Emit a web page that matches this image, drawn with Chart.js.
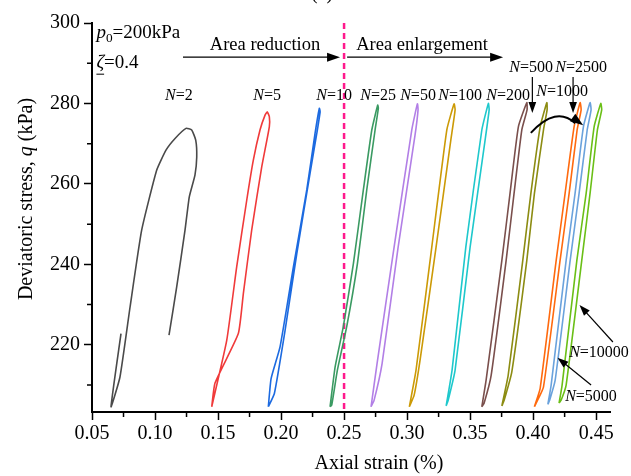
<!DOCTYPE html>
<html>
<head>
<meta charset="utf-8">
<script src="https://cdn.jsdelivr.net/npm/chart.js@4.4.0/dist/chart.umd.min.js"></script>
<style>
  body { margin: 0; background: #fff; }
  canvas { display: block; }
</style>
</head>
<body>
<canvas id="chart" width="631" height="476"></canvas>
<script>
const SERIF = '"Liberation Serif", "Times New Roman", serif';

// cycle numbers and the colour used for each loop
const cycles = [2, 5, 10, 25, 50, 100, 200, 500, 1000, 2500, 5000, 10000];
const loopColors = ["#4a4a4a", "#f03a3a", "#1c6ae0", "#3a9a62", "#b27fe6", "#cc9a06",
  "#1ec8cc", "#7a4f4c", "#8c8c12", "#ff6a0e", "#6aa2dc", "#6abf16"];

// hysteresis loops: [axial strain (%), q (kPa)]
const loopN2 = [[0.0730, 222.8], [0.0651, 204.6], [0.0722, 212.0], [0.0802, 229.4], [0.0894, 248.5],
  [0.1013, 263.4], [0.1087, 268.4], [0.1159, 271.3], [0.1246, 273.8], [0.1291, 273.4], [0.1323, 270.9],
  [0.1331, 266.7], [0.1317, 262.2], [0.1272, 256.8], [0.1238, 248.5], [0.1172, 234.4], [0.1111, 222.4]];
const loopN5 = [[0.1450, 204.6], [0.1569, 221.1], [0.1648, 239.4], [0.1728, 256.0], [0.1780, 265.9],
  [0.1833, 273.4], [0.1873, 277.1], [0.1891, 277.9], [0.1907, 276.7], [0.1907, 274.2], [0.1847, 264.3],
  [0.1767, 248.5], [0.1701, 232.8], [0.1661, 222.8], [0.1476, 210.5], [0.1450, 204.6]];
const loopN10 = [[0.1899, 204.6], [0.1921, 211.6], [0.1992, 219.5], [0.2098, 239.4], [0.2204, 258.5],
  [0.2270, 272.6], [0.2304, 278.8], [0.2310, 277.9], [0.2288, 273.4], [0.2230, 262.6], [0.2125, 242.7],
  [0.2032, 223.6], [0.1947, 207.9], [0.1899, 204.6]];
const loopN25 = [[0.2389, 204.6], [0.2429, 214.5], [0.2494, 224.5], [0.2574, 240.2], [0.2653, 258.5],
  [0.2720, 273.4], [0.2767, 279.6], [0.2772, 278.8], [0.2746, 273.4], [0.2680, 258.5], [0.2606, 240.2],
  [0.2521, 224.5], [0.2447, 213.7], [0.2402, 205.0], [0.2389, 204.6]];
const loopN50 = [[0.2714, 204.6], [0.2762, 215.4], [0.2897, 244.3], [0.3037, 273.4], [0.3082, 279.9],
  [0.3087, 278.4], [0.3063, 272.1], [0.2929, 244.3], [0.2802, 215.4], [0.2738, 206.2], [0.2714, 204.6]];
const loopN100 = [[0.3018, 204.6], [0.3071, 213.7], [0.3196, 244.3], [0.3315, 273.4], [0.3373, 279.9],
  [0.3381, 278.4], [0.3347, 270.9], [0.3230, 244.3], [0.3103, 216.2], [0.3056, 207.5], [0.3018, 204.6]];
const loopN200 = [[0.3310, 204.8], [0.3357, 213.7], [0.3466, 244.3], [0.3593, 273.4], [0.3645, 280.0],
  [0.3651, 278.4], [0.3619, 270.9], [0.3500, 244.3], [0.3381, 213.7], [0.3326, 206.2], [0.3310, 204.8]];
const loopN500 = [[0.3593, 204.6], [0.3627, 211.2], [0.3752, 241.0], [0.3817, 257.7], [0.3883, 274.2],
  [0.3950, 280.2], [0.3952, 278.4], [0.3910, 273.4], [0.3849, 257.7], [0.3786, 241.0], [0.3667, 212.4],
  [0.3611, 205.5], [0.3593, 204.6]];
const loopN1000 = [[0.3752, 204.8], [0.3802, 212.4], [0.3918, 241.0], [0.3982, 257.6], [0.4056, 274.2],
  [0.4109, 280.2], [0.4111, 278.4], [0.4082, 273.4], [0.4010, 257.6], [0.3950, 241.0], [0.3831, 213.3],
  [0.3770, 206.2], [0.3752, 204.8]];
const loopN2500 = [[0.4010, 204.6], [0.4056, 209.2], [0.4183, 241.0], [0.4254, 257.7], [0.4325, 274.2],
  [0.4373, 280.2], [0.4381, 278.4], [0.4349, 273.4], [0.4286, 257.7], [0.4214, 241.0], [0.4082, 209.5],
  [0.4024, 205.5], [0.4010, 204.6]];
const loopN5000 = [[0.4117, 205.2], [0.4143, 210.0], [0.4262, 241.0], [0.4333, 257.7], [0.4399, 274.2],
  [0.4452, 280.2], [0.4460, 278.4], [0.4429, 273.4], [0.4365, 257.7], [0.4294, 241.0], [0.4175, 211.2],
  [0.4131, 206.2], [0.4117, 205.2]];
const loopN10000 = [[0.4206, 205.5], [0.4230, 210.0], [0.4347, 241.0], [0.4421, 257.7], [0.4484, 274.2],
  [0.4537, 280.0], [0.4544, 278.4], [0.4510, 273.4], [0.4452, 257.7], [0.4386, 241.0], [0.4262, 210.0],
  [0.4222, 206.2], [0.4206, 205.5]];

const loops = [loopN2, loopN5, loopN10, loopN25, loopN50, loopN100, loopN200,
  loopN500, loopN1000, loopN2500, loopN5000, loopN10000];

// axes
const xTicks = [0.05, 0.10, 0.15, 0.20, 0.25, 0.30, 0.35, 0.40, 0.45];
const xMinorTicks = [0.075, 0.125, 0.175, 0.225, 0.275, 0.325, 0.375, 0.425];
const yTicks = [220, 240, 260, 280, 300];
const yMinorTicks = [210, 230, 250, 270, 290];
const boundaryStrain = 0.25; // area reduction / enlargement boundary

// draw text made of plain and italic pieces
function richText(ctx, parts, x, y, size, align) {
  let total = 0;
  const widths = parts.map(p => {
    ctx.font = (p.i ? "italic " : "") + (p.sub ? size * 0.7 : size) + "px " + SERIF;
    const w = ctx.measureText(p.t).width;
    total += w;
    return w;
  });
  let cx = align === "center" ? x - total / 2 : x;
  parts.forEach((p, k) => {
    ctx.font = (p.i ? "italic " : "") + (p.sub ? size * 0.7 : size) + "px " + SERIF;
    ctx.fillText(p.t, cx, p.sub ? y + size * 0.3 : y);
    if (p.u) {
      ctx.fillRect(cx, y + size * 0.55, widths[k], 1);
    }
    cx += widths[k];
  });
}

function arrow(ctx, x1, y1, x2, y2, head) {
  const a = Math.atan2(y2 - y1, x2 - x1);
  ctx.beginPath();
  ctx.moveTo(x1, y1);
  ctx.lineTo(x2 - Math.cos(a) * head * 0.8, y2 - Math.sin(a) * head * 0.8);
  ctx.stroke();
  arrowHead(ctx, x2, y2, a, head);
}

function arrowHead(ctx, x, y, a, head) {
  ctx.beginPath();
  ctx.moveTo(x, y);
  ctx.lineTo(x - head * Math.cos(a) + head * 0.35 * Math.sin(a), y - head * Math.sin(a) - head * 0.35 * Math.cos(a));
  ctx.lineTo(x - head * Math.cos(a) - head * 0.35 * Math.sin(a), y - head * Math.sin(a) + head * 0.35 * Math.cos(a));
  ctx.closePath();
  ctx.fill();
}

const decorations = {
  id: "decorations",
  beforeDatasetsDraw(chart) {
    const { ctx, chartArea, scales: { x } } = chart;
    // dashed boundary line
    ctx.save();
    ctx.strokeStyle = "#ff1a8c";
    ctx.lineWidth = 2.5;
    ctx.setLineDash([6, 4]);
    ctx.beginPath();
    ctx.moveTo(x.getPixelForValue(boundaryStrain), chartArea.top);
    ctx.lineTo(x.getPixelForValue(boundaryStrain), chartArea.bottom);
    ctx.stroke();
    ctx.restore();
  },
  afterDraw(chart) {
    const { ctx, chartArea, scales: { x, y } } = chart;
    const px = v => x.getPixelForValue(v);
    const py = v => y.getPixelForValue(v);
    ctx.save();
    ctx.fillStyle = "#000";
    ctx.strokeStyle = "#000";

    // minor ticks
    ctx.lineWidth = 1.5;
    ctx.beginPath();
    xMinorTicks.forEach(v => { ctx.moveTo(px(v), chartArea.bottom); ctx.lineTo(px(v), chartArea.bottom + 5); });
    yMinorTicks.forEach(v => { ctx.moveTo(chartArea.left, py(v)); ctx.lineTo(chartArea.left - 5, py(v)); });
    ctx.stroke();

    // axis titles
    ctx.textBaseline = "middle";
    ctx.textAlign = "left";
    richText(ctx, [{ t: "Axial strain (%)" }], 379, 464, 20, "center");
    ctx.save();
    ctx.translate(27, 199);
    ctx.rotate(-Math.PI / 2);
    richText(ctx, [{ t: "Deviatoric stress, " }, { t: "q", i: true }, { t: " (kPa)" }], 0, 0, 20, "center");
    ctx.restore();

    // panel tag, mostly cut off at the top
    richText(ctx, [{ t: "(a)" }], 322, -6, 20, "center");

    // test conditions
    richText(ctx, [{ t: "p", i: true }, { t: "0", sub: true }, { t: "=200kPa" }], px(0.0535), py(297.5), 19, "left");
    richText(ctx, [{ t: "ζ", i: true, u: true }, { t: "=0.4" }], px(0.0535), py(290.0), 19, "left");

    // area reduction / enlargement
    richText(ctx, [{ t: "Area reduction" }], px(0.1873), py(294.6), 18.5, "center");
    richText(ctx, [{ t: "Area enlargement" }], px(0.3119), py(294.6), 18.5, "center");
    ctx.lineWidth = 1.2;
    arrow(ctx, px(0.1222), py(291.5), px(0.2468), py(291.5), 13);
    arrow(ctx, px(0.2524), py(291.5), px(0.3762), py(291.5), 13);

    // cycle labels
    const labelAt = [[0.1190, 281.8], [0.1889, 281.8], [0.2421, 281.8], [0.2770, 281.8], [0.3087, 281.8],
      [0.3421, 281.8], [0.3802, 281.8], [0.3984, 288.8], [0.4230, 282.8], [0.4381, 288.8]];
    labelAt.forEach((p, k) => {
      richText(ctx, [{ t: "N", i: true }, { t: "=" + cycles[k] }], px(p[0]), py(p[1]), 16, "center");
    });
    richText(ctx, [{ t: "N", i: true }, { t: "=" + cycles[10] }], px(0.4254), py(207.2), 16, "left");
    richText(ctx, [{ t: "N", i: true }, { t: "=" + cycles[11] }], px(0.4286), py(217.9), 16, "left");

    // pointer arrows
    ctx.lineWidth = 1.2;
    arrow(ctx, px(0.3994), py(286.6), px(0.3994), py(277.6), 11);
    arrow(ctx, px(0.4317), py(286.6), px(0.4317), py(277.6), 11);
    arrow(ctx, px(0.4633), py(220.7), px(0.4368), py(229.9), 11);
    arrow(ctx, px(0.4460), py(210.0), px(0.4193), py(216.8), 11);

    // curved arrow from N=500 towards N=10000
    ctx.lineWidth = 2;
    const sx = px(0.3982), sy = py(272.7), cx = px(0.4183), cy = py(279.5), ex = px(0.4397), ey = py(274.6);
    ctx.beginPath();
    ctx.moveTo(sx, sy);
    ctx.quadraticCurveTo(cx, cy, ex - 8, ey - 2);
    ctx.stroke();
    arrowHead(ctx, ex, ey, Math.atan2(ey - cy, ex - cx), 13);
    ctx.restore();
  }
};

new Chart(document.getElementById("chart"), {
  type: "scatter",
  data: {
    datasets: loops.map((loop, k) => ({
      label: "N=" + cycles[k],
      data: loop.map(p => ({ x: p[0], y: p[1] })),
      showLine: true,
      borderColor: loopColors[k],
      borderWidth: 1.6,
      pointRadius: 0,
      tension: 0.15,
      fill: false
    }))
  },
  options: {
    responsive: false,
    animation: false,
    layout: { padding: { left: 0, top: 23, right: 21, bottom: 0 } },
    plugins: { legend: { display: false }, tooltip: { enabled: false } },
    scales: {
      x: {
        type: "linear",
        min: 0.05,
        max: 0.461,
        afterBuildTicks: s => { s.ticks = xTicks.map(v => ({ value: v })); },
        afterFit: s => { s.height = 64; },
        ticks: {
          callback: v => v.toFixed(2),
          color: "#000",
          font: { family: SERIF, size: 20 },
          padding: 2,
          maxRotation: 0
        },
        grid: { drawOnChartArea: false, drawTicks: true, tickLength: 8, tickWidth: 1.5, tickColor: "#000" },
        border: { display: true, color: "#000", width: 2 }
      },
      y: {
        type: "linear",
        min: 203.3,
        max: 300,
        afterBuildTicks: s => { s.ticks = yTicks.map(v => ({ value: v })); },
        afterFit: s => { s.width = 92; },
        ticks: {
          color: "#000",
          font: { family: SERIF, size: 20 },
          padding: 4
        },
        grid: { drawOnChartArea: false, drawTicks: true, tickLength: 8, tickWidth: 1.5, tickColor: "#000" },
        border: { display: true, color: "#000", width: 2 }
      }
    }
  },
  plugins: [decorations]
});
</script>
</body>
</html>
